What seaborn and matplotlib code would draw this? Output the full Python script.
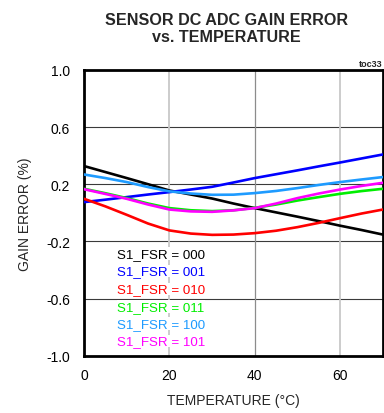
import numpy as np
import pandas as pd
import matplotlib
matplotlib.use("Agg")
import matplotlib.pyplot as plt
import seaborn as sns

# ---- data ----
temperature = [0, 5, 10, 15, 20, 25, 30, 35, 40, 45, 50, 55, 60, 65, 70]
fsr_000 = [0.327, 0.285, 0.243, 0.200, 0.156, 0.128, 0.100, 0.065, 0.033, 0.003, -0.027, -0.058, -0.090, -0.120, -0.152]
fsr_001 = [0.075, 0.092, 0.110, 0.128, 0.145, 0.163, 0.182, 0.212, 0.243, 0.270, 0.297, 0.325, 0.352, 0.380, 0.408]
fsr_010 = [0.098, 0.045, -0.014, -0.075, -0.123, -0.145, -0.154, -0.152, -0.142, -0.125, -0.100, -0.070, -0.037, -0.005, 0.023]
fsr_011 = [0.168, 0.137, 0.103, 0.065, 0.033, 0.018, 0.012, 0.018, 0.035, 0.058, 0.086, 0.110, 0.133, 0.152, 0.168]
fsr_100 = [0.268, 0.243, 0.215, 0.180, 0.150, 0.135, 0.126, 0.127, 0.138, 0.153, 0.173, 0.195, 0.215, 0.233, 0.250]
fsr_101 = [0.165, 0.132, 0.098, 0.058, 0.023, 0.010, 0.007, 0.017, 0.033, 0.065, 0.103, 0.135, 0.163, 0.188, 0.210]

series_names = ["S1_FSR = 000", "S1_FSR = 001", "S1_FSR = 010",
                "S1_FSR = 011", "S1_FSR = 100", "S1_FSR = 101"]
series_values = [fsr_000, fsr_001, fsr_010, fsr_011, fsr_100, fsr_101]
series_colors = ["#000000", "#0000FF", "#FF0000", "#00EE00", "#1E9BFF", "#FF00FF"]

x_ticks = [0, 20, 40, 60]
y_ticks = [-1.0, -0.6, -0.2, 0.2, 0.6, 1.0]
y_tick_labels = ["-1.0", "-0.6", "-0.2", "0.2", "0.6", "1.0"]

df = pd.concat(
    [pd.DataFrame({"Temperature": temperature, "Gain error": vals, "Series": name})
     for name, vals in zip(series_names, series_values)],
    ignore_index=True,
)

sns.set_style("white")
plt.rcParams["font.family"] = ["Liberation Sans", "DejaVu Sans"]

fig = plt.figure(figsize=(3.84, 4.14), dpi=100)
ax = fig.add_axes([0.219, 0.138, 0.778, 0.691])

# gridlines
for yv in [-0.6, -0.2, 0.2, 0.6]:
    ax.axhline(yv, color="#3a3a3a", lw=0.8, zorder=1)
for xv, c, w in [(20, "#c8c8c8", 1.3), (40, "#8c8c8c", 0.9), (60, "#c8c8c8", 1.3)]:
    ax.axvline(xv, color=c, lw=w, zorder=1)

sns.lineplot(data=df, x="Temperature", y="Gain error", hue="Series",
             palette=dict(zip(series_names, series_colors)),
             hue_order=series_names, legend=False, lw=1.9, ax=ax, zorder=3)

ax.set_xlim(0, 70)
ax.set_ylim(-1.0, 1.0)
ax.set_xticks(x_ticks)
ax.set_xticklabels([str(t) for t in x_ticks])
ax.set_yticks(y_ticks)
ax.set_yticklabels(y_tick_labels)
ax.tick_params(axis="both", length=0, labelsize=10, colors="#000000")
ax.tick_params(axis="x", pad=9)
ax.tick_params(axis="y", pad=10)

for sp in ["left", "bottom", "top", "right"]:
    ax.spines[sp].set_linewidth(2.0)
    ax.spines[sp].set_color("black")

ax.set_xlabel("TEMPERATURE (°C)", fontsize=10, labelpad=8)
ax.set_ylabel("GAIN ERROR (%)", fontsize=10, labelpad=10)

# legend-like labels
ys = [0.357, 0.297, 0.234, 0.172, 0.112, 0.052]
for name, col, yy in zip(series_names, series_colors, ys):
    ax.text(0.257, yy, name, color=col, fontsize=9.6, ha="center", va="center",
            transform=ax.transAxes, zorder=4,
            bbox=dict(facecolor="white", edgecolor="none", pad=0.3))

fig.text(0.59, 0.968, "SENSOR DC ADC GAIN ERROR\nvs. TEMPERATURE",
         ha="center", va="top", fontsize=11.6, fontweight="bold",
         linespacing=1.15)
fig.text(0.995, 0.833, "toc33", ha="right", va="bottom", fontsize=6.5,
         fontweight="bold")

fig.savefig("out.png", dpi=100)
